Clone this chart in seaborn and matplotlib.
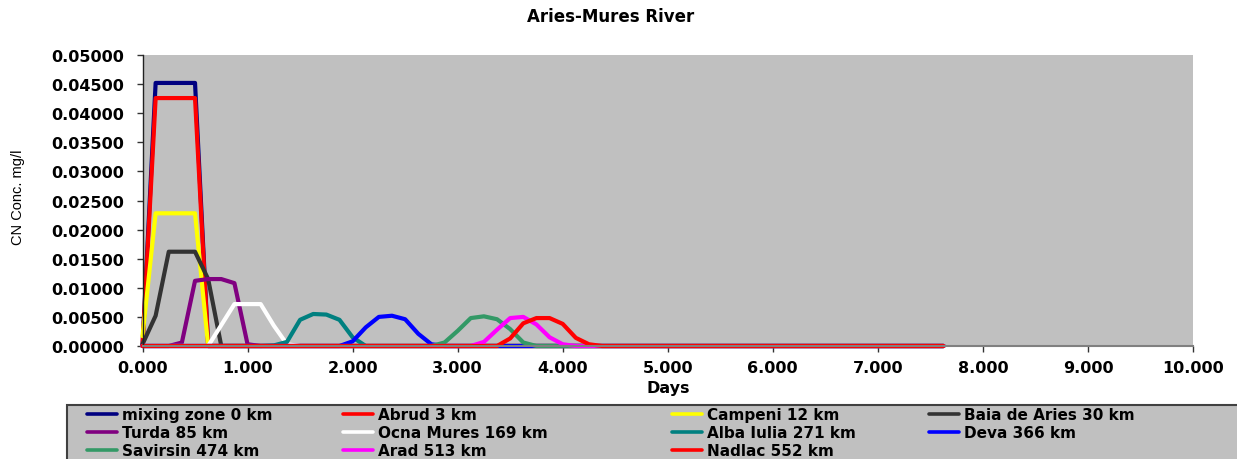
import numpy as np
import pandas as pd
import matplotlib
matplotlib.use("Agg")
import matplotlib.pyplot as plt
from matplotlib.lines import Line2D
from matplotlib.patches import Rectangle
import seaborn as sns

# ---------------- data ----------------
days = [0.000, 0.125, 0.250, 0.375, 0.500, 0.625, 0.750, 0.875,
        1.000, 1.125, 1.250, 1.375, 1.500, 1.625, 1.750, 1.875,
        2.000, 2.125, 2.250, 2.375, 2.500, 2.625, 2.750, 2.875,
        3.000, 3.125, 3.250, 3.375, 3.500, 3.625, 3.750, 3.875,
        4.000, 4.125, 4.250, 4.375, 4.500, 4.625, 4.750, 4.875,
        5.000, 5.125, 5.250, 5.375, 5.500, 5.625, 5.750, 5.875,
        6.000, 6.125, 6.250, 6.375, 6.500, 6.625, 6.750, 6.875,
        7.000, 7.125, 7.250, 7.375, 7.500, 7.625]

stations = ["mixing zone 0 km", "Abrud 3 km", "Campeni 12 km", "Baia de Aries 30 km",
            "Turda 85 km", "Ocna Mures 169 km", "Alba Iulia 271 km", "Deva 366 km",
            "Savirsin 474 km", "Arad 513 km", "Nadlac 552 km"]

# concentrations (mg/l) during the passage of the plume; index of first value in `days`
mixing_zone_start = 0
mixing_zone = [0.0000, 0.0452, 0.0452, 0.0452, 0.0452, 0.0000]
abrud_start = 0
abrud = [0.0000, 0.0426, 0.0426, 0.0426, 0.0426, 0.0000]
campeni_start = 0
campeni = [0.0017, 0.0228, 0.0228, 0.0228, 0.0228, 0.0000]
baia_start = 0
baia = [0.0003, 0.0052, 0.0162, 0.0162, 0.0162, 0.0115, 0.0000]
turda_start = 2
turda = [0.0000, 0.0006, 0.0112, 0.0115, 0.0115, 0.0108, 0.0003, 0.0000]
ocna_start = 5
ocna = [0.0000, 0.0036, 0.0072, 0.0072, 0.0072, 0.0035, 0.0003, 0.0000]
alba_start = 10
alba = [0.0001, 0.0007, 0.0045, 0.0055, 0.0054, 0.0045, 0.0015, 0.0000]
deva_start = 15
deva = [0.0000, 0.0008, 0.0032, 0.0050, 0.0052, 0.0046, 0.0021, 0.0003, 0.0000]
savirsin_start = 22
savirsin = [0.0000, 0.0006, 0.0026, 0.0048, 0.0051, 0.0046, 0.0029, 0.0006, 0.0000]
arad_start = 25
arad = [0.0000, 0.0007, 0.0028, 0.0048, 0.0050, 0.0037, 0.0015, 0.0003, 0.0000]
nadlac_start = 27
nadlac = [0.0000, 0.0013, 0.0039, 0.0048, 0.0048, 0.0038, 0.0014, 0.0003, 0.0000]

colors = ["#000080", "#FF0000", "#FFFF00", "#333333", "#800080", "#FFFFFF",
          "#008080", "#0000FF", "#339966", "#FF00FF", "#FF0000"]

series_parts = [(mixing_zone_start, mixing_zone), (abrud_start, abrud),
                (campeni_start, campeni), (baia_start, baia), (turda_start, turda),
                (ocna_start, ocna), (alba_start, alba), (deva_start, deva),
                (savirsin_start, savirsin), (arad_start, arad), (nadlac_start, nadlac)]

rows = []
for name, (start, vals) in zip(stations, series_parts):
    full = [0.0] * len(days)          # concentration is zero outside the plume
    full[start:start + len(vals)] = vals
    for d, v in zip(days, full):
        rows.append({"Days": d, "CN": v, "Station": name})
df = pd.DataFrame(rows)

# ---------------- figure ----------------
W, H = 1237, 460
sns.set_style("ticks")
plt.rcParams["font.family"] = ["DejaVu Sans"]
plt.rcParams["text.color"] = "black"
plt.rcParams["axes.labelcolor"] = "black"

fig = plt.figure(figsize=(W / 100, H / 100), dpi=100)
fig.patch.set_facecolor("white")
ax = fig.add_axes([142.5 / W, 113 / H, (1193 - 142.5) / W, (347 - 56) / H])
ax.set_facecolor("#C0C0C0")

sns.lineplot(data=df, x="Days", y="CN", hue="Station", hue_order=stations,
             palette=colors, linewidth=3, estimator=None, sort=False,
             legend=False, ax=ax)
for ln in ax.lines:
    ln.set_solid_joinstyle("round")
    ln.set_clip_on(False)

ax.set_xlim(0, 10)
ax.set_ylim(0, 0.05)
ax.set_xticks(np.arange(0, 10.5, 1))
ax.set_yticks(np.arange(0, 0.0501, 0.005))
ax.xaxis.set_major_formatter(matplotlib.ticker.FormatStrFormatter("%.3f"))
ax.yaxis.set_major_formatter(matplotlib.ticker.FormatStrFormatter("%.5f"))
ax.tick_params(axis="both", direction="out", length=4, width=1, color="#333333",
               labelsize=11.5, labelcolor="black")
ax.tick_params(axis="y", pad=9)
ax.tick_params(axis="x", pad=6)
for lab in ax.get_xticklabels() + ax.get_yticklabels():
    lab.set_fontweight("bold")

for s in ["top", "right"]:
    ax.spines[s].set_visible(False)
ax.spines["left"].set_color("#222222")
ax.spines["left"].set_linewidth(1)
ax.spines["bottom"].set_color("#808080")
ax.spines["bottom"].set_linewidth(1.5)

ax.set_xlabel("Days", fontsize=11.5, fontweight="bold", labelpad=4, color="black")
ax.set_ylabel("CN Conc. mg/l", fontsize=10.5, family=["Liberation Sans", "DejaVu Sans"],
              color="black")
ax.yaxis.label.set_va("center")
ax.yaxis.set_label_coords((18 - 142.5) / 1050.5, (347 - 197) / 291)

fig.text(611 / W, 1 - 17 / H, "Aries-Mures River", ha="center", va="center",
         fontsize=12, fontweight="bold", color="black")

# ---------------- legend ----------------
fig.patches.append(Rectangle((67 / W, -0.05), 1.1, (460 - 406) / H + 0.05,
                             transform=fig.transFigure, facecolor="#C0C0C0",
                             edgecolor="#404040", linewidth=1.5, zorder=0))
col_x = [87, 343, 672, 929]
row_y = [416, 434, 452]
fs = 11
px = fs * 100 / 72
for i, (name, c) in enumerate(zip(stations, colors)):
    r, cidx = divmod(i, 4)
    h = Line2D([0], [0], color=c, linewidth=2.6)
    fig.legend(handles=[h], labels=[name], loc="center left",
               bbox_to_anchor=(col_x[cidx] / W, 1 - row_y[r] / H),
               frameon=False, borderpad=0, borderaxespad=0,
               handlelength=30 / px, handletextpad=5 / px,
               labelcolor="black",
               prop={"size": fs, "weight": "bold"})

fig.savefig("out.png", dpi=100, facecolor="white")
